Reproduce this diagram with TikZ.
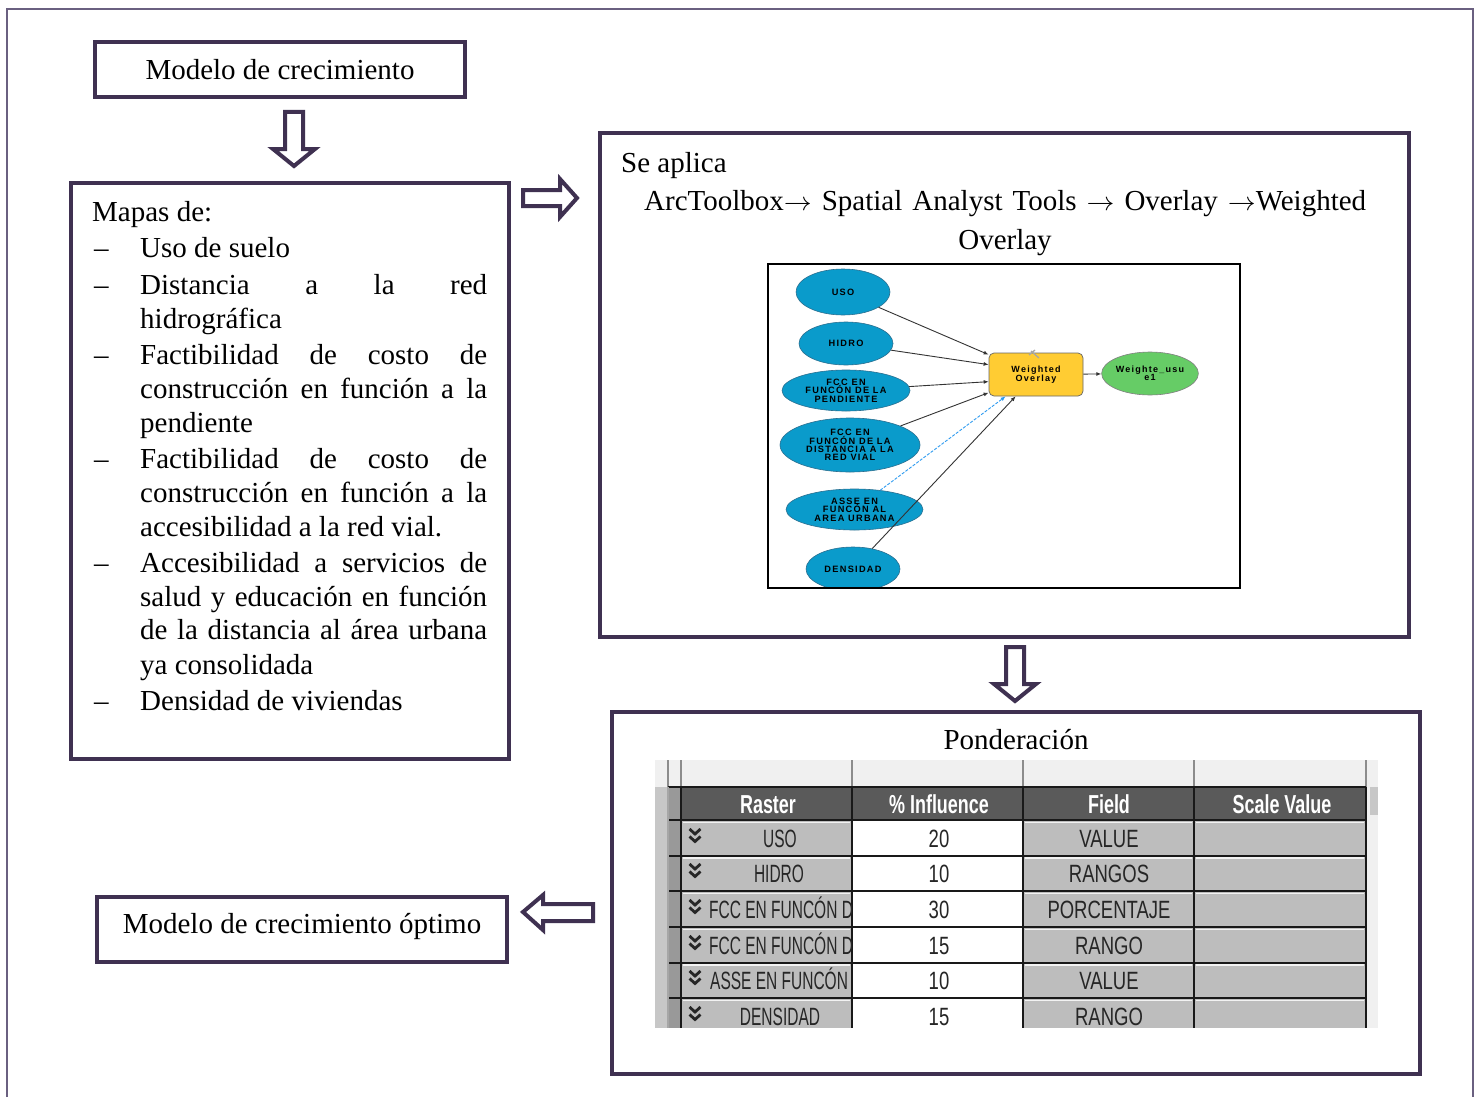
\documentclass[tikz,border=0pt]{standalone}
\usepackage{fontspec}
\usepackage{graphicx}
\setmainfont{Liberation Serif}
\newfontfamily\modelfont[LetterSpace=14]{Liberation Sans}
\newfontfamily\tabfont[FakeStretch=0.74]{Liberation Sans}
\newfontfamily\rasfont[FakeStretch=0.62]{Liberation Sans}
\newfontfamily\hdrfont[FakeStretch=0.69]{Liberation Sans}
\usetikzlibrary{shapes.geometric,arrows.meta,calc}
\definecolor{boxc}{HTML}{3F3151}
\definecolor{framec}{HTML}{6A6080}
\definecolor{ellc}{HTML}{0A9BCB}
\definecolor{ellb}{HTML}{2A6F90}
\definecolor{woc}{HTML}{FFCC33}
\definecolor{outc}{HTML}{66CC66}
\definecolor{hdrc}{HTML}{5A5A5A}
\definecolor{cellc}{HTML}{BDBDBD}
\definecolor{tbbg}{HTML}{F0F0F0}
\definecolor{dashc}{HTML}{2E9BF0}
\newcommand{\rarr}{\scalebox{1.12}[1.05]{$\rightarrow$}}
\tikzset{
  box/.style={draw=boxc, line width=4pt, minimum width=#1, inner sep=0pt},
  blockarrow/.style={draw=boxc, line width=4pt, fill=white, line join=miter},
  txt/.style={font=\fontsize{29}{34}\selectfont, inner sep=0pt},
  mell/.style={ellipse, draw=ellb, line width=0.6pt, fill=ellc, inner sep=0pt, align=center,
    font=\modelfont\bfseries\fontsize{9.2}{8.4}\selectfont},
  medge/.style={draw=black!80, line width=0.9pt, -{Latex[length=5pt,width=4pt]}},
  tabt/.style={font=\tabfont\fontsize{25}{25}\selectfont, inner sep=0pt, anchor=base, text=black!85},
  rast/.style={font=\rasfont\fontsize{25}{25}\selectfont, inner sep=0pt, anchor=base, text=black!85},
  hdrt/.style={font=\hdrfont\bfseries\fontsize{26}{26}\selectfont, inner sep=0pt, anchor=base, text=white},
  chev/.style={line width=2.8pt, draw=black!85, line join=miter}
}
\begin{document}
\begin{tikzpicture}[x=1pt,y=-1pt]
\useasboundingbox (0,0) rectangle (1479,1097);
\fill[white] (0,0) rectangle (1479,1097);
% outer frame
\draw[framec, line width=1.8pt] (7,1097) -- (7,9) -- (1473,9) -- (1473,1097);

% ===== boxes =====
\node[box=370pt, minimum height=55pt] (top) at (280,69.5) {};
\node[txt] (toptxt) at (280,70) {Modelo de crecimiento};

\node[box=438pt, minimum height=576pt] (maps) at (290,471) {};
\node[box=809pt, minimum height=504pt] (apl) at (1004.5,385) {};
\node[box=808pt, minimum height=362pt] (pond) at (1016,893) {};
\node[box=410pt, minimum height=65pt] (opt) at (302,929.5) {};
\node[txt] (opttxt) at (302,926) {Modelo de crecimiento óptimo};

% ===== block arrows =====
\draw[blockarrow] (285,112) -- (303,112) -- (303,149) -- (315,149) -- (294,166) -- (273,149) -- (285,149) -- cycle;
\draw[blockarrow] (523,190) -- (560,190) -- (560,179) -- (577,198) -- (560,217) -- (560,206) -- (523,206) -- cycle;
\draw[blockarrow] (1006,647) -- (1024,647) -- (1024,684) -- (1036,684) -- (1015,701) -- (994,684) -- (1006,684) -- cycle;
\draw[blockarrow] (523,912) -- (543,895) -- (543,904) -- (593,904) -- (593,921) -- (543,921) -- (543,930) -- cycle;

% ===== left box text =====
\node[txt, anchor=base west] (l0) at (92,221) {Mapas de:};
\node[txt, anchor=base west] (d1) at (94,257) {–};
\node[txt, anchor=base west] (l1) at (140,257) {Uso de suelo};
\node[txt, anchor=base west] (d2) at (94,294) {–};
\node[txt, anchor=base west] (l2) at (140,294) {\makebox[347pt][s]{Distancia a la red}};
\node[txt, anchor=base west] (l3) at (140,328) {hidrográfica};
\node[txt, anchor=base west] (d3) at (94,364) {–};
\node[txt, anchor=base west] (l4) at (140,364) {\makebox[347pt][s]{Factibilidad de costo de}};
\node[txt, anchor=base west] (l5) at (140,398) {\makebox[347pt][s]{construcción en función a la}};
\node[txt, anchor=base west] (l6) at (140,432) {pendiente};
\node[txt, anchor=base west] (d4) at (94,468) {–};
\node[txt, anchor=base west] (l7) at (140,468) {\makebox[347pt][s]{Factibilidad de costo de}};
\node[txt, anchor=base west] (l8) at (140,502) {\makebox[347pt][s]{construcción en función a la}};
\node[txt, anchor=base west] (l9) at (140,536) {accesibilidad a la red vial.};
\node[txt, anchor=base west] (d5) at (94,572) {–};
\node[txt, anchor=base west] (l10) at (140,572) {\makebox[347pt][s]{Accesibilidad a servicios de}};
\node[txt, anchor=base west] (l11) at (140,606) {\makebox[347pt][s]{salud y educación en función}};
\node[txt, anchor=base west] (l12) at (140,639) {\makebox[347pt][s]{de la distancia al área urbana}};
\node[txt, anchor=base west] (l13) at (140,674) {ya consolidada};
\node[txt, anchor=base west] (d6) at (94,710) {–};
\node[txt, anchor=base west] (l14) at (140,710) {Densidad de viviendas};

% ===== right box text =====
\node[txt, anchor=base west] (r0) at (621,172) {Se aplica};
\node[txt, anchor=base west] (r1) at (644,210) {\makebox[722pt][s]{ArcToolbox\rarr{} Spatial Analyst Tools \rarr{} Overlay \rarr{}Weighted}};
\node[txt, anchor=base] (r2) at (1005,249) {Overlay};

% ===== model image =====
\fill[white] (768,264) rectangle (1240,588);
\begin{scope}
\clip (768,264) rectangle (1240,588);
\node[mell, minimum width=94pt, minimum height=46pt] (uso) at (843,292) {USO};
\node[mell, minimum width=94pt, minimum height=43pt] (hidro) at (846,343.5) {HIDRO};
\node[mell, minimum width=128pt, minimum height=41pt] (pend) at (846,390.5) {FCC EN\\FUNCÓN DE LA\\PENDIENTE};
\node[mell, minimum width=140pt, minimum height=54pt] (red) at (850,445) {FCC EN\\FUNCÓN DE LA\\DISTANCIA A LA\\RED VIAL};
\node[mell, minimum width=137pt, minimum height=41pt] (asse) at (854.5,509.5) {ASSE EN\\FUNCÓN AL\\AREA URBANA};
\node[mell, minimum width=94pt, minimum height=44pt] (dens) at (853,569) {DENSIDAD};
\node[draw=black!60, line width=0.7pt, fill=woc, rounded corners=5pt, minimum width=94pt, minimum height=43pt,
  inner sep=0pt, align=center, font=\modelfont\bfseries\fontsize{9}{8.4}\selectfont] (wo) at (1036,374.5) {Weighted\\Overlay};
\node[ellipse, draw=black!50, line width=0.6pt, fill=outc, minimum width=94pt, minimum height=43pt,
  inner sep=0pt, align=center, font=\modelfont\bfseries\fontsize{9}{8.4}\selectfont] (out) at (1150,373.5) {Weighte\_usu\\e1};
% tool icon
\draw[black!35, line width=1.3pt] (1031,351) -- (1039,358);
\draw[black!35, line width=1.3pt] (1029,355) -- (1035,350);
% edges
\draw[medge] (uso) -- ($(wo.north west)+(0,2)$);
\draw[medge] (hidro) -- ($(wo.north west)+(0,12)$);
\draw[medge] (pend) -- ($(wo.north west)+(0,29)$);
\draw[medge] (red) -- ($(wo.north west)+(0,40)$);
\draw[draw=dashc, line width=0.9pt, dash pattern=on 3pt off 1.5pt, -{Latex[length=5pt,width=4pt]}] (asse) -- ($(wo.south west)+(17,0)$);
\draw[medge] (dens) -- ($(wo.south west)+(27,0)$);
\draw[medge] (wo) -- (out);
\end{scope}
\draw[black, line width=2pt] (768,264) rectangle (1240,588);

% ===== Ponderacion =====
\node[txt, anchor=base] (p0) at (1016,749) {Ponderación};

\begin{scope}
\clip (655,760) rectangle (1378,1028);
\fill[tbbg] (655,760) rectangle (1378,1028);
\fill[black!22] (655,787) rectangle (668,1028);
\fill[black!40] (668,787) rectangle (681,1028);
\fill[hdrc] (681,787) rectangle (1366,820);
\fill[cellc] (681,820) rectangle (852,1028);
\fill[white] (852,820) rectangle (1023,1028);
\fill[cellc] (1023,820) rectangle (1366,1028);
\fill[black!22] (1370,787) rectangle (1378,815);
% top area column lines
\foreach \xx in {668,681,852,1023,1194,1366}{
  \draw[black!45, line width=1.5pt] (\xx,760) -- (\xx,787);
}
% cell highlights
\foreach \yy in {820,855.5,891,927,962.5,998}{
  \draw[white!80!cellc, line width=1.2pt] (683,\yy+2.5) -- (850,\yy+2.5);
  \draw[white!80!cellc, line width=1.2pt] (1025,\yy+2.5) -- (1192,\yy+2.5);
  \draw[white!80!cellc, line width=1.2pt] (1196,\yy+2.5) -- (1364,\yy+2.5);
}
% grid lines
\foreach \yy in {787,820,855.5,891,927,962.5,998}{
  \draw[black!90, line width=2pt] (668,\yy) -- (1366,\yy);
}
\foreach \xx in {681,852,1023,1194,1366}{
  \draw[black!90, line width=2pt] (\xx,787) -- (\xx,1028);
}
\draw[black!35, line width=1.2pt] (668,787) -- (668,1028);
% header texts
\node[hdrt] (h1) at (768,813) {Raster};
\node[hdrt] (h2) at (939,813) {\% Influence};
\node[hdrt] (h3) at (1109,813) {Field};
\node[hdrt] (h4) at (1282,813) {Scale Value};
% chevrons
\foreach \yy in {838,873,909,945,980,1016}{
  \draw[chev] (689.5,\yy-9) -- (695,\yy-4) -- (700.5,\yy-9);
  \draw[chev] (689.5,\yy-1.5) -- (695,\yy+3.5) -- (700.5,\yy-1.5);
}
% numbers
\node[tabt] (n1) at (939,847) {20};
\node[tabt] (n2) at (939,882) {10};
\node[tabt] (n3) at (939,918) {30};
\node[tabt] (n4) at (939,954) {15};
\node[tabt] (n5) at (939,989) {10};
\node[tabt] (n6) at (939,1025) {15};
% field
\node[tabt] (f1) at (1109,847) {VALUE};
\node[tabt] (f2) at (1109,882) {RANGOS};
\node[tabt] (f3) at (1109,918) {PORCENTAJE};
\node[tabt] (f4) at (1109,954) {RANGO};
\node[tabt] (f5) at (1109,989) {VALUE};
\node[tabt] (f6) at (1109,1025) {RANGO};
\end{scope}
% raster names, clipped to column
\begin{scope}
\clip (704,820) rectangle (851,1028);
\node[rast] (a1) at (780,847) {USO};
\node[rast] (a2) at (779,882) {HIDRO};
\node[rast, anchor=base west] (a3) at (709,918) {FCC EN FUNCÓN DE};
\node[rast, anchor=base west] (a4) at (709,954) {FCC EN FUNCÓN DE};
\node[rast, anchor=base west] (a5) at (710,989) {ASSE EN FUNCÓN};
\node[rast] (a6) at (780,1025) {DENSIDAD};
\end{scope}
\end{tikzpicture}
\end{document}
